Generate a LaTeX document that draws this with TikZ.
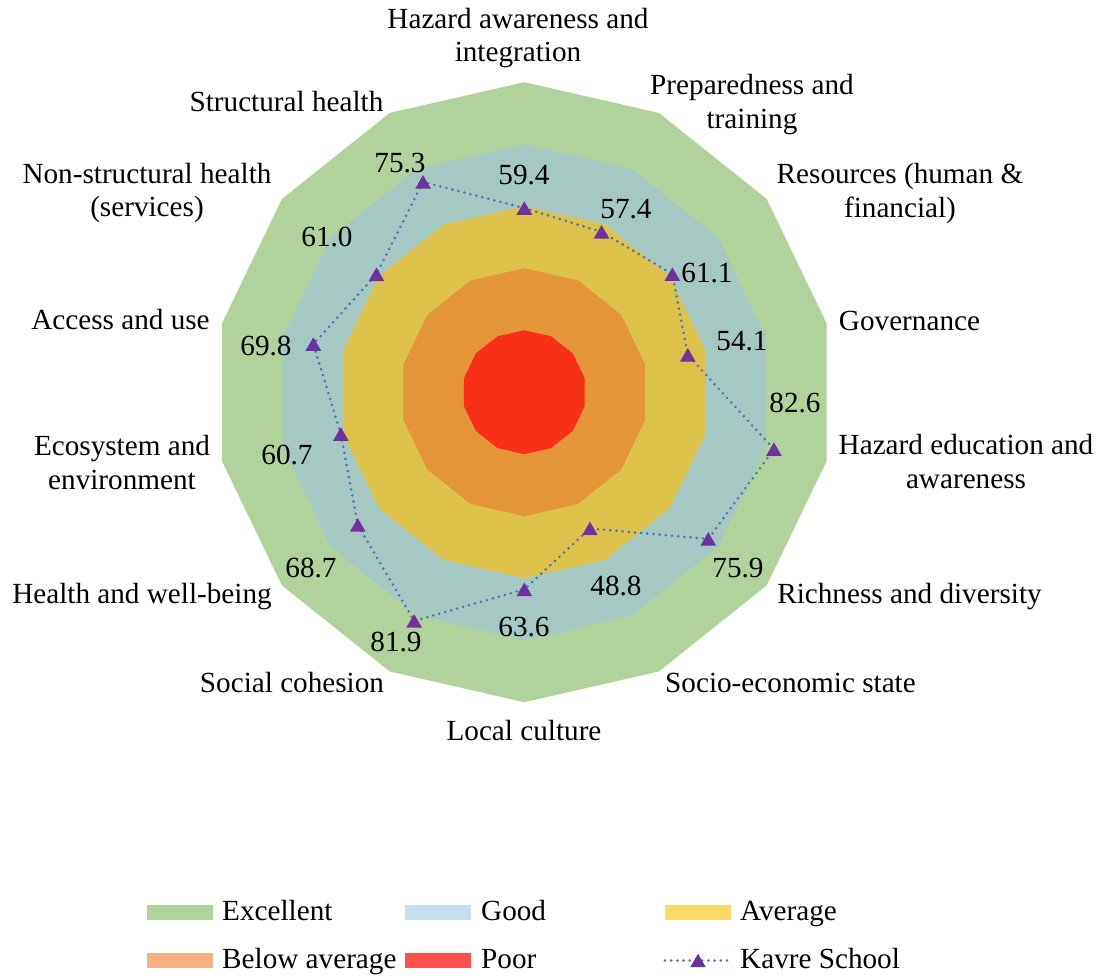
\documentclass[tikz,border=0pt]{standalone}
\usepackage{fontspec}
\setmainfont{Liberation Serif}
\usetikzlibrary{shapes.geometric}
\definecolor{cExc}{HTML}{B1D39B}
\definecolor{cGoodC}{HTML}{A5C8C2}
\definecolor{cAvgC}{HTML}{DCC24A}
\definecolor{cBelC}{HTML}{E5963A}
\definecolor{cPoorC}{HTML}{F83116}
\definecolor{cGoodL}{HTML}{C9DDF0}
\definecolor{cAvgL}{HTML}{FFD966}
\definecolor{cBelL}{HTML}{F4B183}
\definecolor{cPoorL}{HTML}{FF5050}
\definecolor{lineblue}{HTML}{4472C4}
\definecolor{mk}{HTML}{7030A0}
\tikzset{
  dataline/.style={lineblue, line width=2.8pt, line cap=round, dash pattern={on 0pt off 6.2pt}},
  tri/.style={regular polygon, regular polygon sides=3, fill=mk, draw=none, inner sep=0pt, minimum size=18pt, yshift=-2.2pt},
  lab/.style={align=center, anchor=base, inner sep=0pt},
  val/.style={anchor=base, inner sep=0pt},
  swatch/.style={draw=none, minimum width=66pt, minimum height=15pt, inner sep=0pt},
  legtext/.style={anchor=base west, inner sep=0pt}
}
\begin{document}
\begin{tikzpicture}[x=1pt,y=-1pt,font=\fontsize{29.2}{33.6}\selectfont]
\useasboundingbox (0,0) rectangle (1101,977);
\def\cx{524.3}
\def\cy{392.2}
\def\sc{3.1}
% bands
\foreach \v/\c in {100/cExc,80/cGoodC,60/cAvgC,40/cBelC,20/cPoorC}
  \fill[\c] plot[variable=\k, samples at={0,...,13}] ({\cx+\v*\sc*cos(90-\k*360/14)}, {\cy-\v*\sc*sin(90-\k*360/14)}) -- cycle;
% data points
\foreach \v [count=\i from 0] in {59.4,57.4,61.1,54.1,82.6,75.9,48.8,63.6,81.9,68.7,60.7,69.8,61.0,75.3}
  \coordinate (p\i) at ({\cx+\v*\sc*cos(90-\i*360/14)}, {\cy-\v*\sc*sin(90-\i*360/14)});
\draw[dataline] (p0) \foreach \i in {1,...,13}{ -- (p\i)} -- cycle;
\foreach \i in {0,...,13} \node[tri] (m\i) at (p\i) {};
% value labels
\node[val] (v0) at (524,184) {59.4};
\node[val] (v1) at (626,218) {57.4};
\node[val] (v2) at (707,282) {61.1};
\node[val] (v3) at (742,350) {54.1};
\node[val] (v4) at (795,412) {82.6};
\node[val] (v5) at (738,577) {75.9};
\node[val] (v6) at (616,595) {48.8};
\node[val] (v7) at (524,636) {63.6};
\node[val] (v8) at (396,651) {81.9};
\node[val] (v9) at (311,577) {68.7};
\node[val] (v10) at (287,464) {60.7};
\node[val] (v11) at (266,355) {69.8};
\node[val] (v12) at (327,246) {61.0};
\node[val] (v13) at (400,172) {75.3};
% axis labels (anchor base = last line baseline)
\node[lab] (a0) at (518,61.7) {Hazard awareness and\\integration};
\node[lab] (a1) at (752,128.5) {Preparedness and\\training};
\node[lab] (a2) at (900,217) {Resources (human \&\\financial)};
\node[lab] (a3) at (909.5,330) {Governance};
\node[lab] (a4) at (966,488.5) {Hazard education and\\awareness};
\node[lab] (a5) at (909.5,603) {Richness and diversity};
\node[lab] (a6) at (790.5,692) {Socio-economic state};
\node[lab] (a7) at (524,740) {Local culture};
\node[lab] (a8) at (292,692) {Social cohesion};
\node[lab] (a9) at (142,603) {Health and well-being};
\node[lab] (a10) at (122,489) {Ecosystem and\\environment};
\node[lab] (a11) at (120.5,329) {Access and use};
\node[lab] (a12) at (147,216.7) {Non-structural health\\(services)};
\node[lab] (a13) at (286.5,111) {Structural health};
% legend
\node[swatch, fill=cExc] (s1) at (180,912.5) {};
\node[legtext] (t1) at (222,920) {Excellent};
\node[swatch, fill=cGoodL] (s2) at (438,912.5) {};
\node[legtext] (t2) at (481,920) {Good};
\node[swatch, fill=cAvgL] (s3) at (698,912.5) {};
\node[legtext] (t3) at (740,920) {Average};
\node[swatch, fill=cBelL] (s4) at (180,960.5) {};
\node[legtext] (t4) at (222,968) {Below average};
\node[swatch, fill=cPoorL] (s5) at (438,960.5) {};
\node[legtext] (t5) at (481,968) {Poor};
\coordinate (ka) at (665,960.5);
\coordinate (kb) at (731,960.5);
\draw[dataline] (ka) -- (kb);
\node[tri] (s6) at (698,960.5) {};
\node[legtext] (t6) at (740,968) {Kavre School};
\end{tikzpicture}
\end{document}
